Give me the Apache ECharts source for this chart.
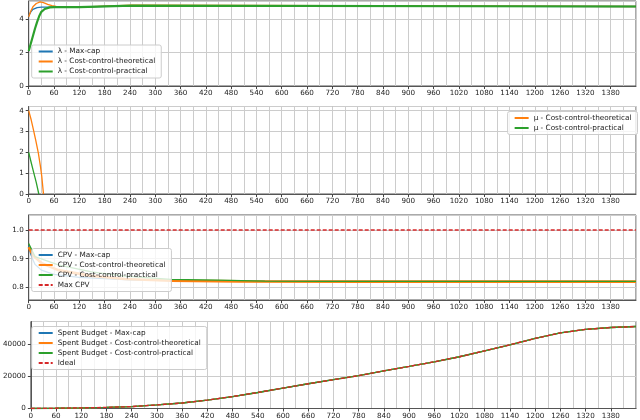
<!DOCTYPE html>
<html>
<head>
<meta charset="utf-8">
<script src="https://cdn.jsdelivr.net/npm/echarts@6/dist/echarts.min.js"></script>
<style>
html,body{margin:0;padding:0;background:#fff;}
#c{width:640px;height:420px;}
</style>
</head>
<body>
<div id="c"></div>
<script>
// ---------- data (time in minutes, value) ----------
const lamMaxCap = [[0,4.2],[5,4.45],[10,4.6],[20,4.7],[30,4.73],[120,4.73],[121,4.82],[244,4.82],[245,4.77],[1440,4.77]];
const lamTheo   = [[0,4.15],[5,4.5],[10,4.75],[18,4.95],[27,5.05],[35,5.0],[45,4.9],[55,4.82],[65,4.77],[75,4.74],[120,4.73],[121,4.85],[244,4.85],[245,4.77],[1440,4.77]];
const lamPrac   = [[0,2.1],[5,2.55],[10,3.0],[15,3.45],[20,3.85],[25,4.2],[30,4.45],[38,4.62],[50,4.72],[60,4.73],[120,4.73],[121,4.82],[244,4.82],[245,4.77],[1440,4.77]];

const muTheo = [[0,4.0],[6,3.55],[11,3.1],[17,2.55],[23,1.95],[28,1.3],[31,0.85],[35,0]];
const muPrac = [[0,2.0],[6,1.5],[11,1.1],[18,0.55],[24,0]];

const cpvMaxCap = [[0,0.945],[4,0.92],[9,0.9],[15,0.88],[30,0.86],[60,0.845],[120,0.835],[240,0.826],[400,0.822],[700,0.821],[1440,0.82]];
const cpvTheo   = [[0,0.94],[11,0.91],[31,0.884],[70,0.86],[149,0.84],[228,0.829],[338,0.823],[500,0.821],[800,0.82],[1440,0.82]];
const cpvPrac   = [[0,0.953],[15,0.907],[70,0.878],[149,0.854],[228,0.839],[338,0.828],[450,0.825],[560,0.822],[700,0.821],[1440,0.821]];
const maxCpv    = [[0,1.0],[1440,1.0]];

const budgetT = [0,60,120,180,240,300,360,420,480,540,600,660,720,780,840,900,960,1020,1080,1140,1200,1260,1320,1380,1440];
const budgetMaxCap = [0,150,400,700,1200,2200,3400,5200,7400,9900,12600,15300,17800,20300,23300,26000,28900,32000,35700,39400,43300,46800,48900,50100,50700];
const budgetTheo   = [0,150,400,700,1200,2200,3400,5200,7400,9900,12600,15300,17800,20300,23300,26000,28900,32000,35700,39400,43300,46800,48900,50100,50700];
const budgetPrac   = [0,150,400,700,1200,2200,3400,5200,7400,9900,12600,15300,17800,20300,23300,26000,28900,32000,35700,39400,43300,46800,48900,50100,50700];
const budgetIdeal  = [0,150,400,700,1200,2200,3400,5200,7400,9900,12600,15300,17800,20300,23300,26000,28900,32000,35700,39400,43300,46800,48900,50100,50700];

const names1 = ['λ - Max-cap','λ - Cost-control-theoretical','λ - Cost-control-practical'];
const names2 = ['μ - Cost-control-theoretical','μ - Cost-control-practical'];
const names3 = ['CPV - Max-cap','CPV - Cost-control-theoretical','CPV - Cost-control-practical','Max CPV'];
const names4 = ['Spent Budget - Max-cap','Spent Budget - Cost-control-theoretical','Spent Budget - Cost-control-practical','Ideal'];

// ---------- styling ----------
const C = {blue:'#1f77b4', orange:'#ff7f0e', green:'#2ca02c', red:'#d62728'};
const FONT = 'DejaVu Sans';
const GRIDC = '#cccccc';
const pair = (ts, vs) => ts.map((t,i)=>[t, vs[i]]);

const grids = [
  {left:28.7, width:607.3, top:1,     height:85},
  {left:28.7, width:607.3, top:106.5, height:87.5},
  {left:28.7, width:607.3, top:215,   height:85},
  {left:28.7, width:607.3, top:321.5, height:87}
].map(g => Object.assign(g, {show:true, borderColor:'#555', borderWidth:1, backgroundColor:'#fff'}));

const xAxes = [0,1,2,3].map(i => ({
  type:'value', gridIndex:i, min:0, max:1440, interval:60,
  axisLine:{show:true, lineStyle:{color:'#555', width:1}},
  axisTick:{show:true, length:3, lineStyle:{color:'#444'}},
  axisLabel:{show:true, fontFamily:FONT, fontSize:7.2, color:'#222', margin:4, showMaxLabel:false, formatter: v => String(v)},
  splitLine:{show:true, lineStyle:{color:GRIDC, width:1}},
  minorTick:{show:false, splitNumber:2},
  minorSplitLine:{show:true, lineStyle:{color:GRIDC, width:1}}
}));

const yBase = i => ({
  type:'value', gridIndex:i,
  axisLine:{show:true, lineStyle:{color:'#555', width:1}},
  axisTick:{show:true, length:3, lineStyle:{color:'#444'}},
  axisLabel:{fontFamily:FONT, fontSize:7.2, color:'#222', margin:5, showMaxLabel:false},
  splitLine:{show:true, lineStyle:{color:GRIDC, width:1}}
});
const yAxes = [
  Object.assign(yBase(0), {min:0, max:5.1, interval:2}),
  Object.assign(yBase(1), {min:0, max:4.2, interval:1}),
  Object.assign(yBase(2), {min:0.756, max:1.052, splitNumber:3}),
  Object.assign(yBase(3), {min:0, max:53800, interval:20000})
];
yAxes[2].axisLabel = Object.assign({}, yAxes[2].axisLabel, {showMinLabel:false, formatter: v => v.toFixed(1)});
yAxes[3].axisLabel = Object.assign({}, yAxes[3].axisLabel, {formatter: v => String(Math.round(v))});

function line(name, data, idx, color, width, dashed){
  return {
    name, type:'line', data, xAxisIndex:idx, yAxisIndex:idx,
    symbol:'none', showSymbol:false, silent:true, clip:true,
    lineStyle:{color, width, type: dashed ? [4,2] : 'solid'},
    itemStyle:{color}
  };
}

const series = [
  line(names1[0], lamMaxCap, 0, C.blue, 1.3),
  line(names1[1], lamTheo,   0, C.orange, 1.3),
  line(names1[2], lamPrac,   0, C.green, 2.2),
  line(names2[0], muTheo, 1, C.orange, 1.3),
  line(names2[1], muPrac, 1, C.green, 1.3),
  line(names3[0], cpvMaxCap, 2, C.blue, 1.3),
  line(names3[1], cpvTheo,   2, C.orange, 2.6),
  line(names3[2], cpvPrac,   2, C.green, 1.3),
  line(names3[3], maxCpv,    2, C.red, 1.5, true),
  line(names4[0], pair(budgetT, budgetMaxCap), 3, C.blue, 1.3),
  line(names4[1], pair(budgetT, budgetTheo),   3, C.orange, 1.3),
  line(names4[2], pair(budgetT, budgetPrac),   3, C.green, 1.3),
  line(names4[3], pair(budgetT, budgetIdeal),  3, C.red, 1.3, true)
];

const legBase = {
  orient:'vertical', itemWidth:14, itemHeight:8, itemGap:3,
  padding:[3,6,3,6], backgroundColor:'rgba(255,255,255,0.8)',
  borderColor:'#cccccc', borderWidth:1, borderRadius:2,
  textStyle:{fontFamily:FONT, fontSize:7.3, color:'#222'},
  itemStyle:{color:'rgba(0,0,0,0)', borderWidth:0, opacity:0},
  selectedMode:false
};
const legends = [
  Object.assign({}, legBase, {data:names1, left:31.7, top:45}),
  Object.assign({}, legBase, {data:names2, right:2.5, top:111.5}),
  Object.assign({}, legBase, {data:names3, left:31.7, top:248.5}),
  Object.assign({}, legBase, {data:names4, left:31.7, top:326.5})
];

const chart = echarts.init(document.getElementById('c'), null, {renderer:'canvas'});
chart.setOption({
  animation:false,
  backgroundColor:'#fff',
  grid:grids, xAxis:xAxes, yAxis:yAxes, legend:legends, series
});
</script>
</body>
</html>
